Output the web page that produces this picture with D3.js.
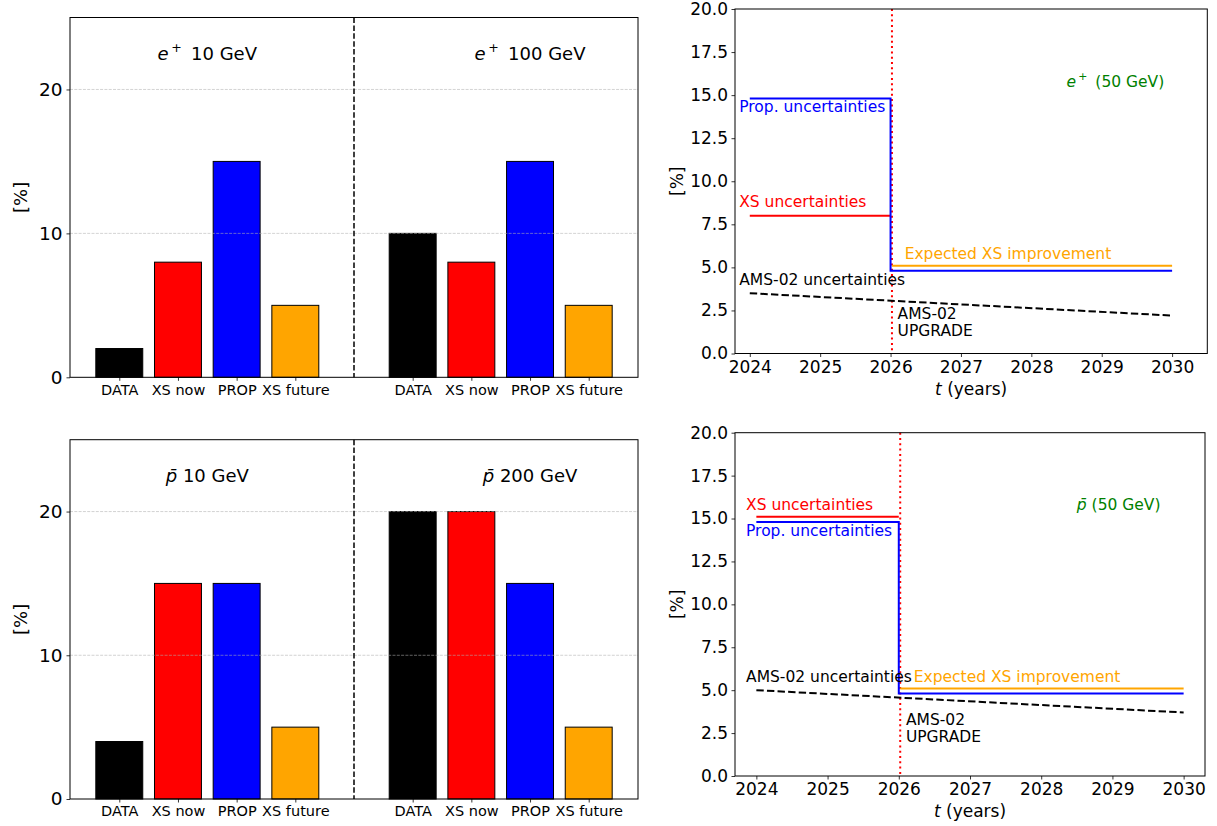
<!DOCTYPE html>
<html>
<head>
<meta charset="utf-8">
<script src="https://cdn.jsdelivr.net/npm/d3@7"></script>
<style>
  html, body { margin: 0; padding: 0; background: #fff; }
  svg text { font-family: "DejaVu Sans", sans-serif; }
</style>
</head>
<body>
<svg id="chart" width="1217" height="826"></svg>
<script>
// ---------------- DATA ----------------
const barCategories = ["DATA", "XS now", "PROP", "XS future"];
const barColors = ["#000000", "#ff0000", "#0000ff", "#ffa500"];
const ePos10GeV = [2, 8, 15, 5];
const ePos100GeV = [10, 8, 15, 5];
const pbar10GeV = [4, 15, 15, 5];
const pbar200GeV = [20, 20, 15, 5];
const barYTicks = [0, 10, 20];

const years = [2024, 2025, 2026, 2027, 2028, 2029, 2030];
const lineYTicks = [0, 2.5, 5, 7.5, 10, 12.5, 15, 17.5, 20];
const upgradeYear = 2026.02;

// e+ (50 GeV) time evolution
const ePosPropYears = [2024, 2026, 2026, 2030];
const ePosPropValues = [14.8, 14.8, 4.8, 4.8];
const ePosXSYears = [2024, 2026];
const ePosXSValues = [8.0, 8.0];
const ePosXSFutureYears = [2026.02, 2030];
const ePosXSFutureValues = [5.1, 5.1];
const ePosAMSYears = [2024, 2030];
const ePosAMSValues = [3.5, 2.2];

// pbar (50 GeV) time evolution
const pbarPropYears = [2024, 2026, 2026, 2030];
const pbarPropValues = [14.8, 14.8, 4.8, 4.8];
const pbarXSYears = [2024, 2026];
const pbarXSValues = [15.1, 15.1];
const pbarXSFutureYears = [2026.02, 2030];
const pbarXSFutureValues = [5.1, 5.1];
const pbarAMSYears = [2024, 2030];
const pbarAMSValues = [5.0, 3.7];

// ---------------- DRAW ----------------
const svg = d3.select("#chart");
const FONT = "DejaVu Sans";

function zip(xs, ys) { return xs.map((x, i) => [x, ys[i]]); }

function addMathLabel(sel, kind, rest, opts) {
  const t = sel.append("text")
    .attr("x", opts.x).attr("y", opts.y)
    .attr("font-size", opts.size)
    .attr("fill", opts.fill || "#000")
    .attr("text-anchor", opts.anchor || "start");
  if (kind === "e+") {
    t.append("tspan").attr("font-style", "italic").text("e");
    t.append("tspan").attr("font-size", opts.size * 0.7).attr("dy", -opts.size * 0.42).attr("dx", opts.size * 0.14).text("+");
    t.append("tspan").attr("dy", opts.size * 0.42).attr("dx", opts.size * 0.2).text("\u00a0" + rest);
  } else {
    t.append("tspan").attr("font-style", "italic").text("p\u0304");
    t.append("tspan").text(rest);
  }
  return t;
}

// ---- Bar panels ----
function barPanel(box, leftVals, rightVals, leftTitle, rightTitle, kind) {
  const g = svg.append("g");
  const x = d3.scaleLinear().domain([-0.84, 8.84]).range([box.l, box.r]);
  const y = d3.scaleLinear().domain([0, 25]).range([box.b, box.t]);
  const bw = 0.8;
  const bars = [];
  barCategories.forEach((c, i) => bars.push({pos: i, v: leftVals[i], color: barColors[i], cat: c}));
  barCategories.forEach((c, i) => bars.push({pos: i + 5, v: rightVals[i], color: barColors[i], cat: c}));

  g.selectAll("rect.bar").data(bars).enter().append("rect")
    .attr("class", "bar")
    .attr("x", d => x(d.pos - bw / 2))
    .attr("width", d => x(d.pos + bw / 2) - x(d.pos - bw / 2))
    .attr("y", d => y(d.v))
    .attr("height", d => y(0) - y(d.v))
    .attr("fill", d => d.color)
    .attr("stroke", "#000")
    .attr("stroke-width", 1);

  g.selectAll("line.grid").data(barYTicks.filter(v => v > 0)).enter().append("line")
    .attr("x1", box.l).attr("x2", box.r)
    .attr("y1", d => y(d)).attr("y2", d => y(d))
    .attr("stroke", "#b0b0b0").attr("stroke-opacity", 0.7)
    .attr("stroke-width", 0.8).attr("stroke-dasharray", "3,1.3");

  g.append("line")
    .attr("x1", x(4)).attr("x2", x(4)).attr("y1", box.t).attr("y2", box.b)
    .attr("stroke", "#000").attr("stroke-width", 1.5).attr("stroke-dasharray", "5.5,2.4");

  const yAxis = d3.axisLeft(y).tickValues(barYTicks).tickFormat(d3.format("d")).tickSize(3.5).tickPadding(4);
  const ya = g.append("g").attr("transform", `translate(${box.l},0)`).call(yAxis);
  ya.select(".domain").remove();
  ya.selectAll("text").attr("font-size", 18.5).attr("font-family", FONT).attr("fill", "#000");
  ya.selectAll("line").attr("stroke", "#000").attr("stroke-width", 0.8);

  const xAxis = d3.axisBottom(x).tickValues(bars.map(b => b.pos))
    .tickFormat((d, i) => bars[i].cat).tickSize(3.5).tickPadding(3.5);
  const xa = g.append("g").attr("transform", `translate(0,${box.b})`).call(xAxis);
  xa.select(".domain").remove();
  xa.selectAll("text").attr("font-size", 14.5).attr("font-family", FONT).attr("fill", "#000");
  xa.selectAll("line").attr("stroke", "#000").attr("stroke-width", 0.8);

  g.append("rect").attr("x", box.l).attr("y", box.t).attr("width", box.r - box.l).attr("height", box.b - box.t)
    .attr("fill", "none").attr("stroke", "#000").attr("stroke-width", 1);

  g.append("text").attr("transform", `translate(${box.l - 50},${(box.t + box.b) / 2}) rotate(-90)`)
    .attr("text-anchor", "middle").attr("dominant-baseline", "central")
    .attr("font-size", 18).text("[%]");

  addMathLabel(g, kind, leftTitle, {x: x(1.5), y: y(22.08), size: 18, anchor: "middle"});
  addMathLabel(g, kind, rightTitle, {x: x(7.0), y: y(22.08), size: 18, anchor: "middle"});
}

barPanel({l: 70, r: 638, t: 17.5, b: 377.3}, ePos10GeV, ePos100GeV, "10 GeV", "100 GeV", "e+");
barPanel({l: 70, r: 638, t: 439.7, b: 799}, pbar10GeV, pbar200GeV, " 10 GeV", " 200 GeV", "pbar");

// ---- Line panels ----
function linePanel(box, xDomain, series, texts) {
  const g = svg.append("g");
  const x = d3.scaleLinear().domain(xDomain).range([box.l, box.r]);
  const y = d3.scaleLinear().domain([0, 20]).range([box.b, box.t]);
  const line = d3.line().x(d => x(d[0])).y(d => y(d[1]));

  g.append("line").attr("x1", x(upgradeYear)).attr("x2", x(upgradeYear))
    .attr("y1", box.t).attr("y2", box.b)
    .attr("stroke", "#ff0000").attr("stroke-width", 2).attr("stroke-dasharray", "2,3.3");

  series.forEach(s => {
    g.append("path").attr("d", line(s.pts)).attr("fill", "none")
      .attr("stroke", s.color).attr("stroke-width", 2)
      .attr("stroke-dasharray", s.dash || null);
  });

  texts.forEach(t => {
    if (t.kind) {
      addMathLabel(g, t.kind, t.text, {x: x(t.x), y: y(t.y), size: 15.5, fill: t.color});
    } else {
      g.append("text").attr("x", x(t.x)).attr("y", y(t.y)).attr("font-size", 15.5)
        .attr("fill", t.color).text(t.text);
    }
  });

  const yAxis = d3.axisLeft(y).tickValues(lineYTicks).tickFormat(d3.format(".1f")).tickSize(3.5).tickPadding(3.5);
  const ya = g.append("g").attr("transform", `translate(${box.l},0)`).call(yAxis);
  ya.select(".domain").remove();
  ya.selectAll("text").attr("font-size", 17).attr("font-family", FONT).attr("fill", "#000");
  ya.selectAll("line").attr("stroke", "#000").attr("stroke-width", 0.8);

  const xAxis = d3.axisBottom(x).tickValues(years).tickFormat(d3.format("d")).tickSize(3.5).tickPadding(3.5);
  const xa = g.append("g").attr("transform", `translate(0,${box.b})`).call(xAxis);
  xa.select(".domain").remove();
  xa.selectAll("text").attr("font-size", 17).attr("font-family", FONT).attr("fill", "#000");
  xa.selectAll("line").attr("stroke", "#000").attr("stroke-width", 0.8);

  g.append("rect").attr("x", box.l).attr("y", box.t).attr("width", box.r - box.l).attr("height", box.b - box.t)
    .attr("fill", "none").attr("stroke", "#000").attr("stroke-width", 1);

  g.append("text").attr("transform", `translate(${box.l - 58},${(box.t + box.b) / 2}) rotate(-90)`)
    .attr("text-anchor", "middle").attr("dominant-baseline", "central")
    .attr("font-size", 17).text("[%]");

  const xl = g.append("text").attr("x", (box.l + box.r) / 2).attr("y", box.b + 41)
    .attr("text-anchor", "middle").attr("font-size", 17);
  xl.append("tspan").attr("font-style", "italic").text("t");
  xl.append("tspan").text(" (years)");
}

linePanel({l: 735, r: 1207.3, t: 9, b: 353.5}, [2023.79, 2030.5], [
  {pts: zip(ePosXSYears, ePosXSValues), color: "#ff0000"},
  {pts: zip(ePosXSFutureYears, ePosXSFutureValues), color: "#ffa500"},
  {pts: zip(ePosPropYears, ePosPropValues), color: "#0000ff"},
  {pts: zip(ePosAMSYears, ePosAMSValues), color: "#000000", dash: "7.4,3.2"}
], [
  {x: 2023.85, y: 14.0, text: "Prop. uncertainties", color: "#0000ff"},
  {x: 2023.85, y: 8.5, text: "XS uncertainties", color: "#ff0000"},
  {x: 2026.2, y: 5.5, text: "Expected XS improvement", color: "#ffa500"},
  {x: 2023.85, y: 4.0, text: "AMS-02 uncertainties", color: "#000000"},
  {x: 2026.1, y: 2.0, text: "AMS-02", color: "#000000"},
  {x: 2026.1, y: 1.0, text: "UPGRADE", color: "#000000"},
  {x: 2028.5, y: 15.5, text: "(50 GeV)", color: "#008000", kind: "e+"}
]);

linePanel({l: 735, r: 1205, t: 432.7, b: 776}, [2023.7, 2030.3], [
  {pts: zip(pbarXSYears, pbarXSValues), color: "#ff0000"},
  {pts: zip(pbarXSFutureYears, pbarXSFutureValues), color: "#ffa500"},
  {pts: zip(pbarPropYears, pbarPropValues), color: "#0000ff"},
  {pts: zip(pbarAMSYears, pbarAMSValues), color: "#000000", dash: "7.4,3.2"}
], [
  {x: 2023.855, y: 15.5, text: "XS uncertainties", color: "#ff0000"},
  {x: 2023.855, y: 14.0, text: "Prop. uncertainties", color: "#0000ff"},
  {x: 2023.855, y: 5.5, text: "AMS-02 uncertainties", color: "#000000"},
  {x: 2026.21, y: 5.5, text: "Expected XS improvement", color: "#ffa500"},
  {x: 2026.1, y: 3.0, text: "AMS-02", color: "#000000"},
  {x: 2026.1, y: 2.0, text: "UPGRADE", color: "#000000"},
  {x: 2028.5, y: 15.5, text: " (50 GeV)", color: "#008000", kind: "pbar"}
]);
</script>
</body>
</html>
